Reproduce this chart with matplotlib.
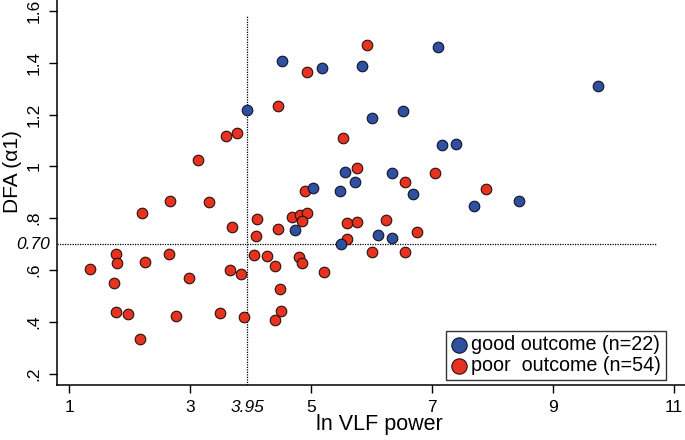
import numpy as np
import matplotlib.pyplot as plt
import matplotlib.transforms as mtransforms

plt.rcParams['font.family'] = ['Liberation Sans', 'DejaVu Sans']

# good outcome (n=22)
good_x = [4.52, 5.19, 3.95, 5.57, 5.03, 5.49, 5.85, 7.11, 9.75, 6.01, 6.52,
          7.17, 7.40, 6.35, 5.73, 6.69, 7.70, 8.44, 6.11, 6.35, 5.50, 4.73]
good_y = [1.407, 1.379, 1.219, 0.980, 0.918, 0.905, 1.388, 1.462, 1.310, 1.188, 1.213,
          1.084, 1.086, 0.976, 0.941, 0.893, 0.846, 0.866, 0.734, 0.724, 0.700, 0.753]

# poor outcome (n=54)
poor_x = [4.93, 4.46, 3.59, 3.78, 3.14, 5.53, 4.90, 2.21, 2.67, 3.32,
          5.93, 5.77, 7.05, 6.56, 7.89, 5.60, 5.77, 6.25, 6.76, 5.60,
          6.02, 6.56, 4.69, 4.82, 4.94, 4.86, 4.11, 3.69, 4.46, 4.10,
          4.06, 4.27, 4.81, 4.86, 4.40, 5.21, 3.67, 3.85, 1.34, 1.78,
          1.80, 1.74, 1.78, 1.98, 2.18, 2.25, 2.66, 2.99, 2.77, 3.49,
          3.89, 4.49, 4.50, 4.40]
poor_y = [1.364, 1.234, 1.116, 1.130, 1.024, 1.108, 0.906, 0.819, 0.865, 0.861,
          1.467, 0.993, 0.976, 0.939, 0.914, 0.783, 0.784, 0.792, 0.748, 0.719,
          0.670, 0.670, 0.804, 0.814, 0.821, 0.790, 0.795, 0.764, 0.757, 0.731,
          0.657, 0.655, 0.651, 0.627, 0.617, 0.592, 0.601, 0.583, 0.605, 0.661,
          0.625, 0.551, 0.439, 0.431, 0.335, 0.630, 0.662, 0.570, 0.423, 0.433,
          0.419, 0.526, 0.442, 0.408]

# 閾値
cut_x = 3.95
cut_y = 0.70

x_ticks = [1, 3, 5, 7, 9, 11]
y_ticks = [0.2, 0.4, 0.6, 0.8, 1.0, 1.2, 1.4, 1.6]
y_ticklabels = ['.2', '.4', '.6', '.8', '1', '1.2', '1.4', '1.6']

blue = '#2f4f9f'
red = '#e6321e'

fig = plt.figure(figsize=(6.85, 4.4), dpi=100)
ax = fig.add_axes([57.3 / 685, 55 / 440, 627.7 / 685, 385 / 440])

ax.scatter(poor_x, poor_y, s=58, c=red, edgecolors='#2a1010', linewidths=0.8, zorder=3,
           label='poor  outcome (n=54)')
ax.scatter(good_x, good_y, s=58, c=blue, edgecolors='#10142a', linewidths=0.8, zorder=3,
           label='good outcome (n=22)')

# 点線
ax.plot([cut_x, cut_x], [0.156, 1.585], ls=(0, (1, 1)), color='black', lw=0.9, zorder=2)
ax.plot([0.806, 10.73], [cut_y, cut_y], ls=(0, (1, 1)), color='black', lw=0.9, zorder=2)

ax.set_xlim(0.806, 11.19)
ax.set_ylim(0.156, 1.642)
ax.set_xticks(x_ticks)
ax.set_xticklabels([str(t) for t in x_ticks])
ax.set_yticks(y_ticks)
ax.set_yticklabels(y_ticklabels, rotation=90, va='center')

ax.tick_params(axis='both', direction='out', length=5.5, width=1, labelsize=12.5, pad=5)
ax.tick_params(axis='y', pad=6)

for side in ['top', 'right']:
    ax.spines[side].set_visible(False)
for side in ['left', 'bottom']:
    ax.spines[side].set_linewidth(1.1)

# 閾値のラベル
trans_x = mtransforms.blended_transform_factory(ax.transData, ax.transAxes)
ax.text(cut_x, -0.04, '3.95', transform=trans_x, ha='center', va='top',
        fontsize=12.5, style='italic')
trans_y = mtransforms.blended_transform_factory(ax.transAxes, ax.transData)
ax.text(-0.011, cut_y, '0.70', transform=trans_y, ha='right', va='center',
        fontsize=12.5, style='italic')

ax.set_xlabel('ln VLF power', fontsize=15.5, labelpad=1)
ax.xaxis.set_label_coords(0.5125, -0.075)
ax.set_ylabel('DFA (α1)', fontsize=15)
ax.yaxis.set_label_coords(-0.057, 0.5545)

handles, labels = ax.get_legend_handles_labels()
leg = ax.legend(handles[::-1], labels[::-1], loc='lower right',
                bbox_to_anchor=(666 / 685, 60 / 440), bbox_transform=fig.transFigure,
                fontsize=14.2, frameon=True, fancybox=False, edgecolor='black',
                borderpad=0.25, handletextpad=0.15, labelspacing=0.08,
                handlelength=0.9, markerscale=1.45, borderaxespad=0)
leg.get_frame().set_linewidth(1.0)

fig.savefig('out.png', dpi=100)
